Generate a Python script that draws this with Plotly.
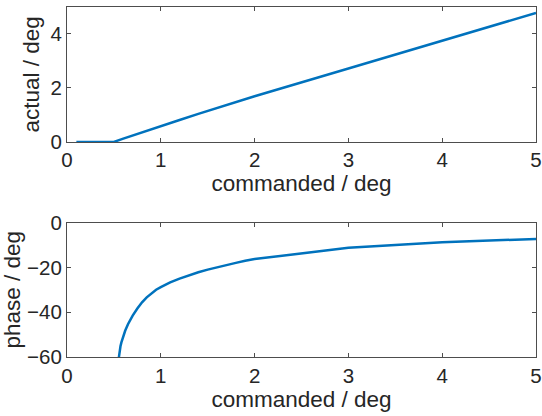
import plotly.graph_objects as go
from plotly.subplots import make_subplots

# Commanded amplitude vs. actual amplitude through the backlash
cmd_amp = [0.1, 0.2, 0.3, 0.4, 0.5, 0.6, 0.7, 0.8, 0.9, 1.0, 1.2, 1.4, 1.6, 1.8, 2.0, 3.0, 4.0, 5.0]
actual_amp = [0.0, 0.0, 0.0, 0.0, 0.0, 0.12, 0.24, 0.36, 0.48, 0.59, 0.81, 1.04, 1.26, 1.48, 1.69, 2.72, 3.75, 4.78]

# Phase lag of the output vs. commanded amplitude
cmd_phase = [0.53, 0.55, 0.56, 0.57, 0.58, 0.60, 0.62, 0.65, 0.68, 0.70, 0.75, 0.80, 0.85, 0.90,
             0.95, 1.0, 1.1, 1.2, 1.3, 1.4, 1.5, 1.6, 1.7, 1.8, 1.9, 2.0, 3.0, 4.0, 5.0]
phase_deg = [-67, -60, -57.3, -55.2, -53.5, -50.7, -48.3, -45.4, -43.0, -41.5, -38.4, -35.6, -33.4, -31.5,
             -30.0, -28.8, -26.7, -25.0, -23.5, -22.2, -21.0, -19.9, -18.9, -18.0, -17.1, -16.3, -11.3, -8.8, -7.3]

x_ticks = [0, 1, 2, 3, 4, 5]
top_y_ticks = [0, 2, 4]
bottom_y_ticks = [-60, -40, -20, 0]

BLUE = "#0072BD"
INK = "#262626"
FONT = "Liberation Sans, Arial, Helvetica, sans-serif"

fig = make_subplots(rows=2, cols=1, shared_xaxes=False)

fig.add_trace(go.Scatter(x=cmd_amp, y=actual_amp, mode="lines",
                         line=dict(color=BLUE, width=2.5), showlegend=False), row=1, col=1)
fig.add_trace(go.Scatter(x=cmd_phase, y=phase_deg, mode="lines",
                         line=dict(color=BLUE, width=2.5), showlegend=False), row=2, col=1)

axis_style = dict(
    showline=True, linecolor="#4d4d4d", linewidth=1, mirror="ticks",
    ticks="inside", ticklen=4, tickwidth=1, tickcolor="#4d4d4d",
    showgrid=False, zeroline=False, automargin=False,
    tickfont=dict(family=FONT, size=20.5, color=INK),
)
title_font = dict(family=FONT, size=22.5, color=INK)

fig.update_xaxes(**axis_style, range=[0, 5], tickvals=x_ticks,
                 title=dict(text="commanded / deg", font=title_font, standoff=2))
fig.update_yaxes(**axis_style)
fig.update_yaxes(range=[0, 5], tickvals=top_y_ticks, row=1, col=1,
                 title=dict(text="actual / deg", font=title_font, standoff=4))
fig.update_yaxes(range=[-60, 0], tickvals=bottom_y_ticks, row=2, col=1,
                 title=dict(text="phase / deg", font=title_font, standoff=4))

fig.update_layout(
    width=542, height=416,
    margin=dict(l=67, r=6, t=7, b=59),
    paper_bgcolor="white", plot_bgcolor="white",
    xaxis=dict(domain=[0, 1]), xaxis2=dict(domain=[0, 1]),
    yaxis=dict(domain=[0.6146, 1.0]),
    yaxis2=dict(domain=[0.0, 0.3842]),
)

fig.write_html("out.html")
